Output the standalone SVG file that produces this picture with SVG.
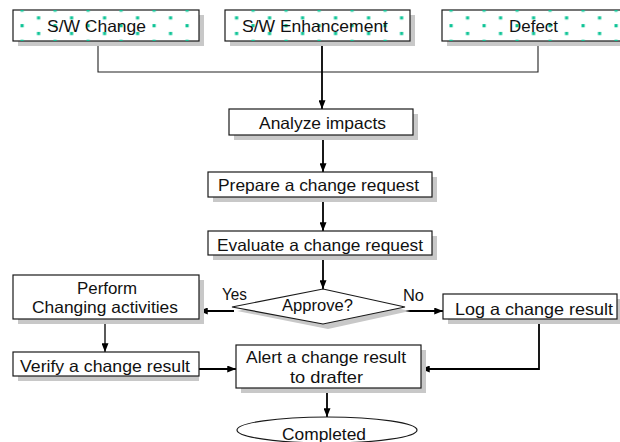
<svg xmlns="http://www.w3.org/2000/svg" width="620" height="442" viewBox="0 0 620 442">
<style>
.box{fill:#ffffff;stroke:#1a1a1a;stroke-width:1.2}
.sh{fill:#c8c8c8;stroke:none}
.t{font-family:"Liberation Sans",Arial,sans-serif;font-size:16.5px;fill:#111111}
.thin{fill:none;stroke:#222222;stroke-width:1.1}
.arr{fill:none;stroke:#000000;stroke-width:1.8;marker-end:url(#ah)}
.arr2{fill:none;stroke:#000000;stroke-width:1.3;marker-end:url(#ah)}
</style>
<defs>
<marker id="ah" viewBox="0 0 10 8" markerWidth="9" markerHeight="7" refX="10" refY="4" orient="auto" markerUnits="userSpaceOnUse">
<path d="M0,0 L10,4 L0,8 Z" fill="#000000"/>
</marker>
<pattern id="dots" patternUnits="userSpaceOnUse" x="20.5" y="8.5" width="33" height="15.6">
<rect x="0" y="0" width="3.2" height="3.2" fill="#10c497"/>
<rect x="16.5" y="7.8" width="3.2" height="3.2" fill="#10c497"/>
</pattern>
</defs>
<rect width="620" height="442" fill="#ffffff"/>

<g id="connectors">
<path class="thin" d="M98,41 V72 H538 V41"/>
<path class="arr" d="M322,41 V109"/>
<path class="arr" d="M323,135 V172"/>
<path class="arr" d="M323,197 V231"/>
<path class="arr" d="M323,255 V289"/>
<path class="arr" d="M234,311 H199"/>
<path class="arr" d="M405,311 H443"/>
<path class="arr2" d="M105,319 V352"/>
<path class="arr" d="M199,369 H236"/>
<path class="arr" d="M539,319 V369 H421"/>
<path class="arr" d="M327,388 V417"/>
</g>

<g id="sw-change">
<rect class="sh" x="18" y="15" width="186" height="31"/>
<rect class="box" x="13" y="10" width="186" height="31"/>
<rect x="13" y="10" width="186" height="31" fill="url(#dots)"/>
<text class="t" x="47" y="31.5" textLength="99" lengthAdjust="spacingAndGlyphs">S/W Change</text>
</g>
<g id="sw-enhancement">
<rect class="sh" x="230" y="15" width="185" height="31"/>
<rect class="box" x="225" y="10" width="185" height="31"/>
<rect x="225" y="10" width="185" height="31" fill="url(#dots)"/>
<text class="t" x="242" y="31.5" textLength="146" lengthAdjust="spacingAndGlyphs">S/W Enhancement</text>
</g>
<g id="defect">
<rect class="sh" x="447" y="15" width="186" height="31"/>
<rect class="box" x="442" y="10" width="186" height="31"/>
<rect x="442" y="10" width="186" height="31" fill="url(#dots)"/>
<text class="t" x="509" y="31.5" textLength="49" lengthAdjust="spacingAndGlyphs">Defect</text>
</g>

<g id="analyze">
<rect class="sh" x="234" y="114" width="184" height="26"/>
<rect class="box" x="229" y="109" width="184" height="26"/>
<text class="t" x="259" y="129" textLength="127" lengthAdjust="spacingAndGlyphs">Analyze impacts</text>
</g>
<g id="prepare">
<rect class="sh" x="213" y="177" width="224" height="25"/>
<rect class="box" x="208" y="172" width="224" height="25"/>
<text class="t" x="218" y="190.5" textLength="201" lengthAdjust="spacingAndGlyphs">Prepare a change request</text>
</g>
<g id="evaluate">
<rect class="sh" x="213" y="236" width="224" height="24"/>
<rect class="box" x="208" y="231" width="224" height="24"/>
<text class="t" x="217" y="251" textLength="206" lengthAdjust="spacingAndGlyphs">Evaluate a change request</text>
</g>
<g id="approve">
<polygon class="sh" points="328,293 410,311 328,329 237,311"/>
<polygon class="box" points="323,289 405,307 323,324 232,307"/>
<text class="t" x="282" y="311" textLength="71" lengthAdjust="spacingAndGlyphs">Approve?</text>
<text class="t" x="222" y="300" textLength="25" lengthAdjust="spacingAndGlyphs">Yes</text>
<text class="t" x="403" y="301" textLength="21" lengthAdjust="spacingAndGlyphs">No</text>
</g>
<g id="perform">
<rect class="sh" x="18" y="280" width="186" height="44"/>
<rect class="box" x="13" y="275" width="186" height="44"/>
<text class="t" x="77" y="294" textLength="60" lengthAdjust="spacingAndGlyphs">Perform</text>
<text class="t" x="32" y="313" textLength="146" lengthAdjust="spacingAndGlyphs">Changing activities</text>
</g>
<g id="log">
<rect class="sh" x="448" y="299" width="174" height="25"/>
<rect class="box" x="443" y="294" width="174" height="25"/>
<text class="t" x="455" y="315" textLength="158" lengthAdjust="spacingAndGlyphs">Log  a change result</text>
</g>
<g id="verify">
<rect class="sh" x="18" y="357" width="181" height="24"/>
<rect class="box" x="13" y="352" width="186" height="24"/>
<text class="t" x="20" y="372" textLength="170" lengthAdjust="spacingAndGlyphs">Verify a change result</text>
</g>
<g id="alert">
<rect class="sh" x="241" y="350" width="185" height="43"/>
<rect class="box" x="236" y="345" width="185" height="43"/>
<text class="t" x="246" y="363" textLength="160" lengthAdjust="spacingAndGlyphs">Alert a change result</text>
<text class="t" x="290" y="383" textLength="73" lengthAdjust="spacingAndGlyphs">to drafter</text>
</g>
<g id="completed">
<ellipse class="box" cx="327" cy="430" rx="90" ry="13"/>
<text class="t" x="282" y="440" textLength="84" lengthAdjust="spacingAndGlyphs">Completed</text>
</g>
</svg>
